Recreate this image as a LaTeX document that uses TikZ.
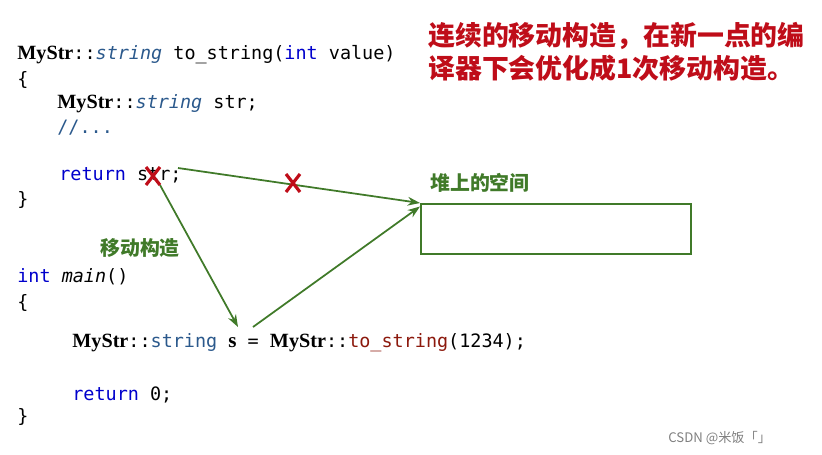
\documentclass[tikz,border=0pt]{standalone}
\usepackage{fontspec}
\setmonofont{DejaVu Sans Mono}
\newfontfamily\cjk{Noto Sans CJK SC}
\newfontfamily\mystrfont{Liberation Serif}
\usetikzlibrary{arrows.meta}
\definecolor{KeyBlue}{rgb}{0.0,0.0,0.8}
\definecolor{TypeBlue}{rgb}{0.17,0.35,0.55}
\definecolor{FuncRed}{rgb}{0.55,0.1,0.05}
\definecolor{NoteRed}{rgb}{0.75,0.05,0.1}
\definecolor{NoteGreen}{rgb}{0.25,0.48,0.16}
\newcommand{\MS}{{\mystrfont\bfseries\fontsize{11.5}{12}\selectfont MyStr}::}
\newcommand{\kw}[1]{\textcolor{KeyBlue}{#1}}
\newcommand{\ty}[1]{\textcolor{TypeBlue}{#1}}

\begin{document}
\begin{tikzpicture}[x=0.02cm,y=-0.02cm,
  code/.style={anchor=base west,inner sep=0pt,font=\ttfamily\fontsize{10.5}{12}\selectfont},
  note/.style={anchor=base west,inner sep=0pt,text=NoteGreen,font=\cjk\bfseries\fontsize{11.3}{13}\selectfont},
  arr/.style={NoteGreen,line width=1pt,-{Stealth[length=7pt,width=5pt]}},
  cross/.style={NoteRed,line width=1.8pt}]
\useasboundingbox (0,0) rectangle (822,454);

% the function
\node[code] (l1) at (17,59) {\MS\ty{\itshape string} to\_string(\kw{int} value)};
\node[code] (l2) at (17,85) {\{};
\node[code] (l3) at (57,108) {\MS\ty{\itshape string} str;};
\node[code] (l4) at (57,133) {\ty{//...}};
\node[code] (l5) at (59,180) {\kw{return} str;};
\node[code] (l6) at (17,205) {\}};

% main
\node[code] (m1) at (17,282) {\kw{int} \textit{main}()};
\node[code] (m2) at (17,308) {\{};
\node[code] (m3) at (72,347) {\MS\ty{string} {\mystrfont\bfseries\fontsize{12}{12}\selectfont s} = \MS\textcolor{FuncRed}{to\_string}(1234);};
\node[code] (m4) at (72,400) {\kw{return} 0;};
\node[code] (m5) at (17,422) {\}};

% notes
\node[anchor=north west,inner sep=0pt,text=NoteRed,align=left,
  font=\cjk\bfseries\fontsize{15.3}{19}\selectfont] (title) at (428,22)
  {连续的移动构造，在新一点的编\\译器下会优化成1次移动构造。};
\node[note] (heap) at (430,190) {堆上的空间};
\node[note] (move) at (100,255) {移动构造};
\node[draw=NoteGreen,line width=1.2pt,minimum width=270*0.02cm,minimum height=50*0.02cm,
  anchor=north west,inner sep=0pt] (box) at (420,203) {};

\coordinate (str) at (160,185);
\coordinate (strR) at (178,168);
\coordinate (sL) at (238,327);
\coordinate (sR) at (253,327);

\draw[arr] (strR) -- (box.north west);
\draw[arr] (str) -- (sL);
\draw[arr] (sR) -- ([yshift=-2pt]box.north west);

% crosses
\coordinate (x1) at (153,176);
\coordinate (x2) at (293,183);
\foreach \c in {x1,x2}
  \draw[cross] ([shift={(-7,-9)}]\c) -- ([shift={(7,9)}]\c)
               ([shift={(7,-9)}]\c) -- ([shift={(-7,9)}]\c);

\node[anchor=base west,inner sep=0pt,text=gray,font=\cjk\fontsize{7.5}{9}\selectfont] (mark) at (668,442) {CSDN @米饭「」};
\end{tikzpicture}
\end{document}
